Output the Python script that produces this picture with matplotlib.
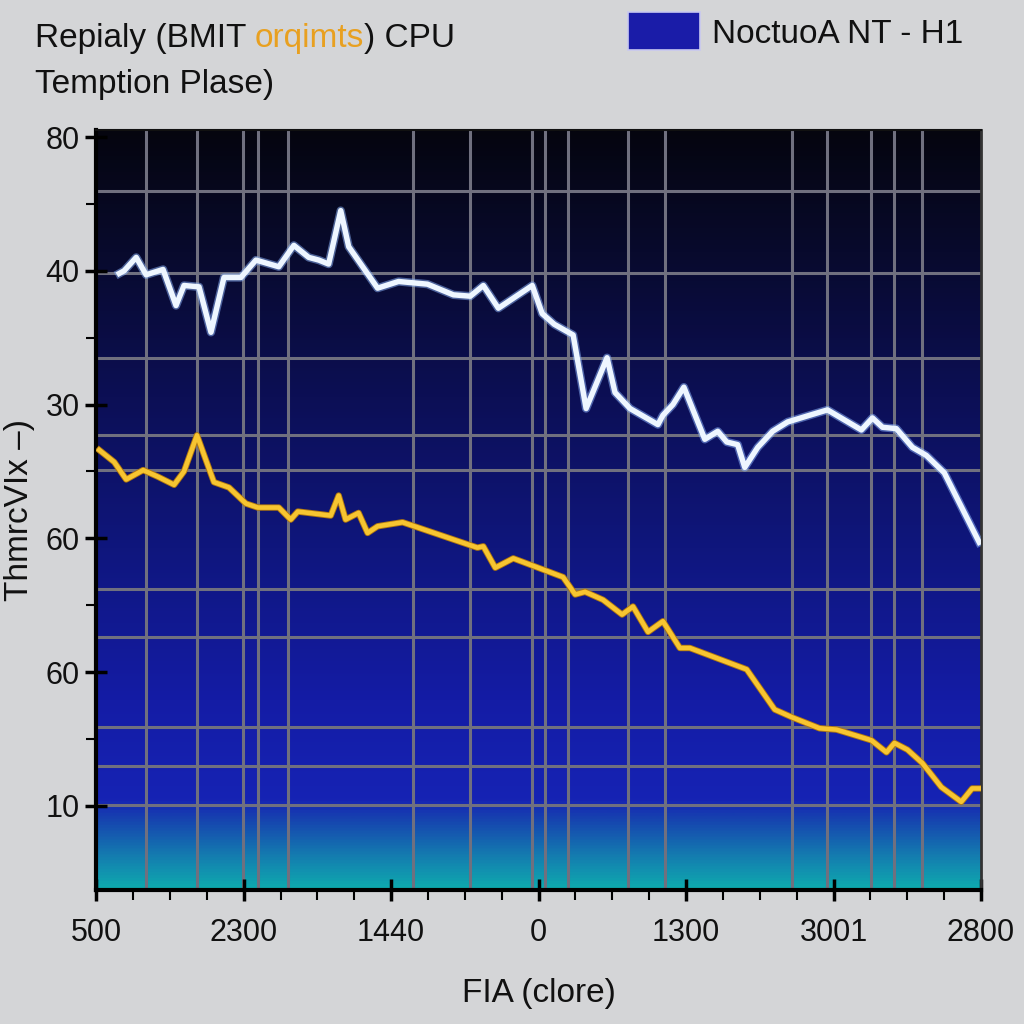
import matplotlib.pyplot as plt
import matplotlib.patheffects as pe
import numpy as np
from matplotlib.colors import LinearSegmentedColormap
from matplotlib.patches import Rectangle

plt.rcParams['font.family'] = ['Liberation Sans', 'DejaVu Sans']

# white series (upper line)
white_x = [1.56, 1.89, 2.71, 3.38, 4.53, 5.41, 5.95, 6.97, 7.78, 8.66, 9.81, 10.83,
           12.38, 13.40, 14.41, 15.09, 15.76, 16.58, 17.12, 19.08, 20.50, 22.46, 24.22,
           25.37, 26.25, 27.27, 29.57, 30.24, 31.06, 32.34, 33.22, 34.64, 35.18, 36.20,
           38.09, 38.43, 39.11, 39.85, 41.27, 42.15, 42.76, 43.50, 43.98, 44.86, 45.87,
           46.89, 48.38, 49.59, 51.89, 52.64, 53.32, 54.26, 55.35, 56.29, 57.51, 59.88]
white_y = [49.8, 50.0, 51.0, 49.7, 50.1, 47.4, 48.9, 48.8, 45.4, 49.5, 49.5, 50.8,
           50.3, 51.9, 51.0, 50.8, 50.5, 54.5, 51.8, 48.7, 49.2, 49.0, 48.2,
           48.1, 48.9, 47.2, 48.9, 46.8, 46.0, 45.2, 39.7, 43.5, 40.9, 39.7,
           38.5, 39.2, 40.0, 41.3, 37.4, 38.0, 37.2, 37.0, 35.3, 36.8, 38.0,
           38.7, 39.2, 39.6, 38.1, 39.0, 38.3, 38.2, 36.8, 36.2, 34.9, 29.7]

# gold series (lower line)
gold_x = [0.20, 1.22, 2.03, 3.18, 4.19, 5.28, 5.95, 6.83, 7.98, 9.00, 10.15, 10.96,
          12.38, 13.19, 13.67, 15.90, 16.44, 16.91, 17.79, 18.40, 19.08, 20.77, 25.85,
          26.25, 27.06, 28.28, 31.66, 32.48, 33.15, 34.37, 35.66, 36.40, 37.42, 38.43,
          39.58, 40.26, 44.11, 46.01, 47.23, 49.05, 50.20, 52.57, 53.59, 54.13, 55.01,
          56.02, 57.31, 58.66, 59.40, 59.88]
gold_y = [36.6, 35.7, 34.4, 35.1, 34.6, 34.0, 35.0, 37.7, 34.2, 33.8, 32.6, 32.3,
          32.3, 31.4, 32.0, 31.7, 33.2, 31.4, 31.9, 30.4, 30.9, 31.2, 29.3,
          29.4, 27.8, 28.5, 27.1, 25.8, 26.0, 25.4, 24.3, 24.9, 23.0, 23.8,
          21.8, 21.8, 20.2, 17.2, 16.6, 15.8, 15.7, 14.9, 14.0, 14.7, 14.2,
          13.2, 11.4, 10.3, 11.3, 11.3]

ytick_pos = [10, 20, 30, 40, 50, 60]
ytick_labels = ['10', '60', '60', '30', '40', '80']
xtick_pos = [0, 10, 20, 30, 40, 50, 60]
xtick_labels = ['500', '2300', '1440', '0', '1300', '3001', '2800']

# irregular grid lines seen in the picture
grid_x = [3.38, 6.83, 9.95, 10.96, 12.99, 21.45, 25.37, 29.57, 30.45, 32.0,
          36.06, 38.57, 47.16, 49.59, 52.57, 54.13, 56.02]
grid_y = [56.0, 49.8, 43.5, 37.7, 35.1, 26.2, 22.6, 15.9, 13.0, 10.1]

ylo, yhi = 3.72, 60.52

fig = plt.figure(figsize=(10.24, 10.24), dpi=100, facecolor='#d4d5d7')
ax = fig.add_axes([0.094, 0.131, 0.864, 0.742])

# background gradient
stops = [(0.0, '#0eaaae'), (0.04, '#1480b0'), (0.09, '#1645af'), (0.118, '#1623b4'),
         (0.25, '#141ca5'), (0.45, '#0f167d'), (0.65, '#0c0f55'), (0.84, '#080a2d'),
         (1.0, '#05050f')]
cmap = LinearSegmentedColormap.from_list('bg', stops)
grad = np.linspace(0, 1, 512).reshape(-1, 1)
ax.imshow(grad, extent=[0, 60, ylo, yhi], origin='lower', aspect='auto',
          cmap=cmap, zorder=0)

for gx in grid_x:
    ax.axvline(gx, color='#70707f', lw=2.2, zorder=1)
for gy in grid_y:
    ax.axhline(gy, color='#70707f', lw=2.2, zorder=1)

ax.plot(white_x, white_y, color='#eef6ff', lw=3.9, zorder=3,
        path_effects=[pe.Stroke(linewidth=6, foreground='#8fb8ff', alpha=0.5), pe.Normal()])
ax.plot(gold_x, gold_y, color='#f7c531', lw=3.3, zorder=3,
        path_effects=[pe.Stroke(linewidth=4.6, foreground='#b07810'), pe.Normal()])

ax.set_xlim(0, 60)
ax.set_ylim(ylo, yhi)

ax.set_xticks(xtick_pos)
ax.set_xticklabels(xtick_labels)
ax.set_xticks(np.arange(0, 60.1, 2.5), minor=True)
ax.set_yticks(ytick_pos)
ax.set_yticklabels(ytick_labels)
ax.set_yticks([15, 25, 35, 45, 55], minor=True)

ax.tick_params(axis='both', which='major', labelsize=22, direction='inout',
               length=16, width=2.5, color='black', labelcolor='#111111')
ax.tick_params(axis='y', which='major', pad=4)
ax.tick_params(axis='x', which='major', pad=12)
ax.tick_params(axis='both', which='minor', direction='out', length=7, width=1.5,
               color='black')

for side in ['left', 'bottom']:
    ax.spines[side].set_linewidth(3)
    ax.spines[side].set_color('black')
ax.spines['top'].set_linewidth(1.5)
ax.spines['top'].set_color('#111111')
ax.spines['right'].set_linewidth(2)
ax.spines['right'].set_color('#333333')

ax.set_xlabel('FIA (clore)', fontsize=24, labelpad=22, color='#111111')
ax.set_ylabel('ThmrcVIx –)', fontsize=24, labelpad=2, color='#111111')
ax.yaxis.set_label_coords(-0.069, 0.5)

# title in pieces, one part coloured
t1 = fig.text(0.034, 0.947, 'Repialy (BMIT ', fontsize=24, color='#111111', va='bottom')
t2 = ax.annotate('orqimts', xy=(1, 0), xycoords=t1, fontsize=24, color='#e8a020',
                 va='bottom', ha='left', annotation_clip=False)
t3 = ax.annotate(') CPU', xy=(1, 0), xycoords=t2, fontsize=24, color='#111111',
                 va='bottom', ha='left', annotation_clip=False)
fig.text(0.034, 0.902, 'Temption Plase)', fontsize=24, color='#111111', va='bottom')

# legend entry
fig.patches.append(Rectangle((0.613, 0.951), 0.071, 0.037, transform=fig.transFigure,
                             facecolor='#1a1ca8', edgecolor='#c8c8f0', lw=1.2))
fig.text(0.695, 0.951, 'NoctuoA NT - H1', fontsize=24, color='#111111', va='bottom')

fig.savefig('out.png', dpi=100, facecolor=fig.get_facecolor())
